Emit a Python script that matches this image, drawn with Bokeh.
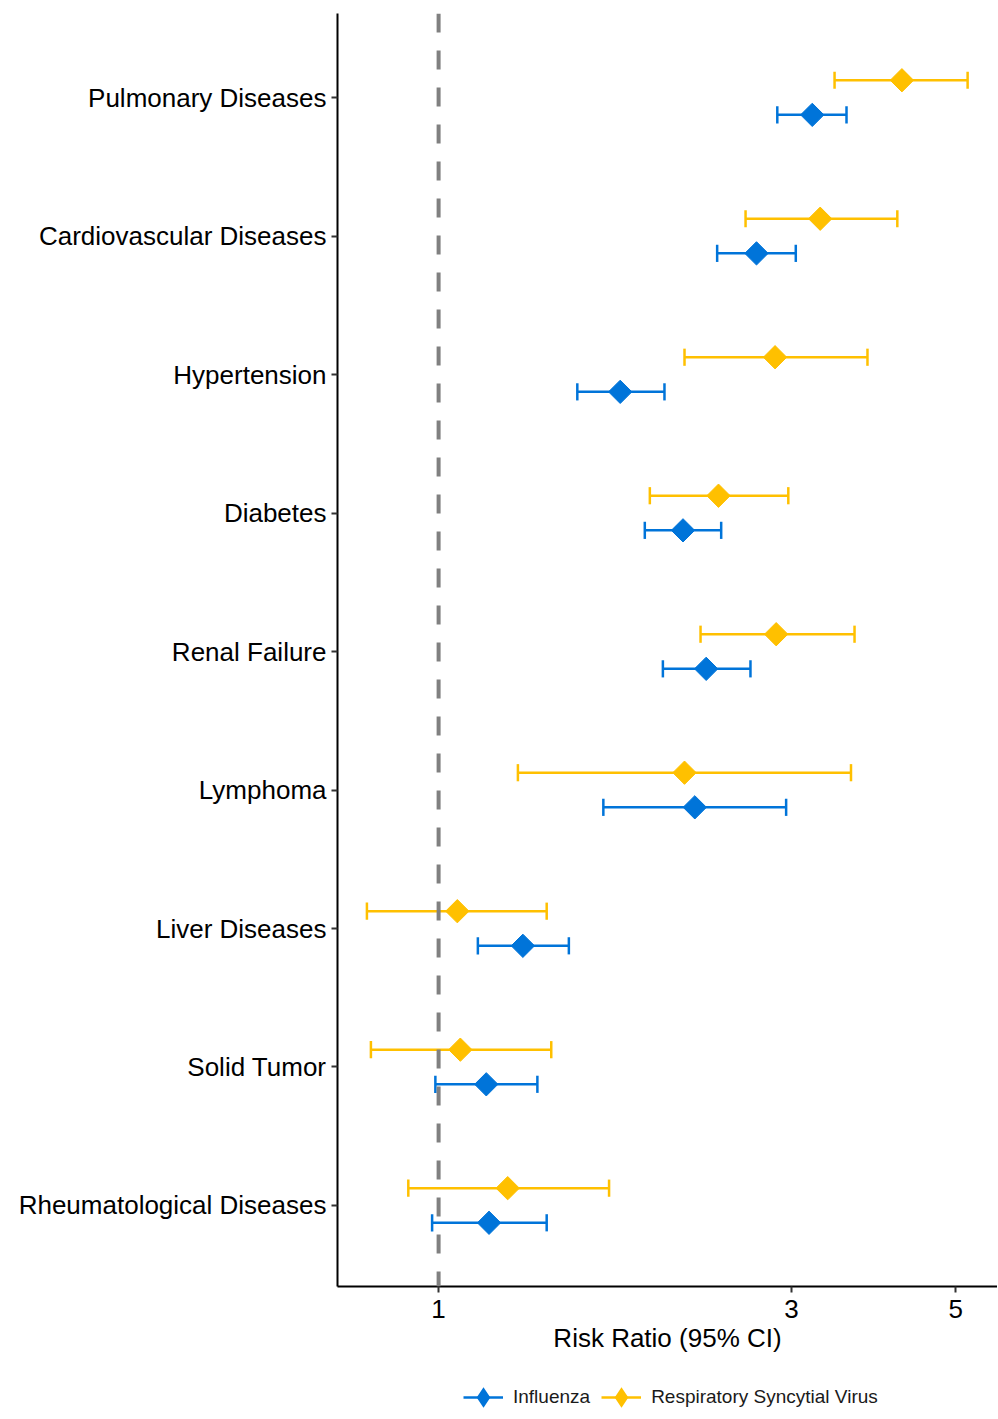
import numpy as np
from bokeh.plotting import figure
from bokeh.layouts import column
from bokeh.models import (ColumnDataSource, Range1d, FixedTicker, Span, Legend,
                          LegendItem, BasicTickFormatter)
from bokeh.embed import file_html
from bokeh.resources import INLINE

categories = ["Pulmonary Diseases", "Cardiovascular Diseases", "Hypertension",
              "Diabetes", "Renal Failure", "Lymphoma", "Liver Diseases",
              "Solid Tumor", "Rheumatological Diseases"]

flu_rr = [3.20, 2.69, 1.76, 2.14, 2.30, 2.22, 1.30, 1.16, 1.17]
flu_lo = [2.87, 2.38, 1.54, 1.90, 2.01, 1.67, 1.13, 0.99, 0.98]
flu_hi = [3.56, 3.04, 2.02, 2.41, 2.64, 2.95, 1.50, 1.36, 1.40]

rsv_rr = [4.23, 3.28, 2.85, 2.39, 2.86, 2.15, 1.06, 1.07, 1.24]
rsv_lo = [3.43, 2.60, 2.15, 1.93, 2.26, 1.28, 0.80, 0.81, 0.91]
rsv_hi = [5.19, 4.17, 3.80, 2.97, 3.65, 3.61, 1.40, 1.42, 1.70]

series_names = ["Influenza", "Respiratory Syncytial Virus"]
x_ticks = [1, 3, 5]

BLUE = "#0074D9"
YELLOW = "#FFC000"
FONT = "Liberation Sans"

n = len(categories)
base = np.arange(n, 0, -1).astype(float)
dodge = 0.125
cap = 0.062

p = figure(frame_width=660, frame_height=1273, x_axis_type="log",
           x_range=Range1d(0.730, 5.696), y_range=Range1d(0.415, 9.607),
           output_backend="svg", toolbar_location=None,
           min_border_left=337, min_border_right=0, min_border_top=13,
           min_border_bottom=89)
p.outline_line_color = None
p.xgrid.visible = False
p.ygrid.visible = False
p.background_fill_color = "white"

vline = Span(location=1, dimension="height", line_color="#808080",
             line_width=4, line_dash="19 18", level="overlay")
p.add_layout(vline)

# legend strip below the main chart
p2 = figure(width=997, height=44, x_range=Range1d(0, 1), y_range=Range1d(0, 1),
            output_backend="svg", toolbar_location=None,
            x_axis_location=None, y_axis_location=None, min_border=0)
p2.outline_line_color = None
p2.xgrid.visible = False
p2.ygrid.visible = False

legend_items = []
for name, rr, lo, hi, off, col in [
        (series_names[0], flu_rr, flu_lo, flu_hi, -dodge, BLUE),
        (series_names[1], rsv_rr, rsv_lo, rsv_hi, dodge, YELLOW)]:
    y = base + off
    src = ColumnDataSource(dict(rr=rr, lo=lo, hi=hi, y=y,
                                y0=y - cap, y1=y + cap))
    p.segment(x0="lo", x1="hi", y0="y", y1="y", source=src,
              line_color=col, line_width=2.5)
    p.segment(x0="lo", x1="lo", y0="y0", y1="y1", source=src,
              line_color=col, line_width=2.5)
    p.segment(x0="hi", x1="hi", y0="y0", y1="y1", source=src,
              line_color=col, line_width=2.5)
    p.scatter(x="rr", y="y", source=src, marker="square", size=16.5,
              angle=np.pi / 4, fill_color=col, line_color=col)
    # key glyphs for the legend strip (no data points drawn)
    ksrc = ColumnDataSource(dict(x=[np.nan], y=[np.nan]))
    kseg = p2.segment(x0="x", x1="x", y0="y", y1="y", source=ksrc,
                      line_color=col, line_width=2.5)
    kpt = p2.scatter(x="x", y="y", source=ksrc, marker="diamond", size=16,
                     fill_color=col, line_color=col, line_width=2.5,
                     line_join="miter")
    legend_items.append(LegendItem(label=name, renderers=[kseg, kpt]))

p.xaxis.ticker = FixedTicker(ticks=x_ticks, minor_ticks=[])
p.xaxis.formatter = BasicTickFormatter()
p.xaxis.axis_label = "Risk Ratio (95% CI)"
p.yaxis.ticker = FixedTicker(ticks=list(base), minor_ticks=[])
p.yaxis.major_label_overrides = {float(b): c for b, c in zip(base, categories)}

for ax in (p.xaxis[0], p.yaxis[0]):
    ax.axis_line_color = "black"
    ax.axis_line_width = 2
    ax.major_tick_line_color = "#333333"
    ax.major_tick_line_width = 2
    ax.major_tick_out = 6
    ax.major_tick_in = 0
    ax.minor_tick_line_color = None
    ax.major_label_text_font = FONT
    ax.major_label_text_font_size = "26px"
    ax.major_label_text_color = "black"
    ax.axis_label_text_font = FONT
    ax.axis_label_text_font_size = "26px"
    ax.axis_label_text_font_style = "normal"
    ax.axis_label_text_color = "black"

p.yaxis.major_label_standoff = 5
p.xaxis.major_label_standoff = 7
p.xaxis.axis_label_standoff = 2

legend = Legend(items=legend_items, orientation="horizontal",
                location=(126, 0), label_text_font=FONT,
                label_text_font_size="19px", label_text_color="#1a1a1a",
                glyph_width=40, glyph_height=44,
                label_standoff=10, spacing=11, border_line_color=None,
                background_fill_color=None, padding=0, margin=0)
p2.add_layout(legend)

layout = column(p, p2, spacing=0)
open("out.html", "w").write(file_html(layout, INLINE))
